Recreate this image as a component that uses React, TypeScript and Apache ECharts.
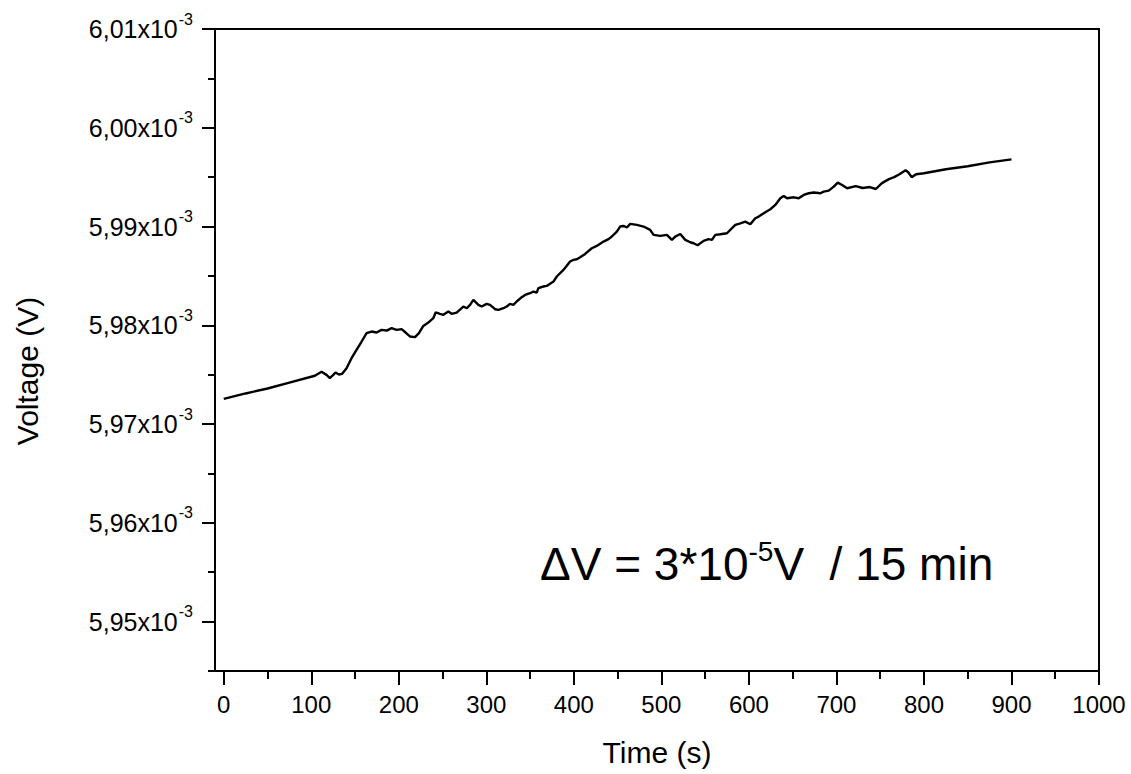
import React, { useEffect, useRef } from "react";
import * as echarts from "echarts";

// Voltage drift recording: time in seconds, voltage in units of 1e-3 V
const timeS: number[] = [
  0, 25, 50, 75, 104.1, 111.7, 117.4, 121.2, 125.1, 127.7, 131.5, 135.3, 140.3,
  146.0, 151.7, 157.5, 163.2, 168.9, 174.6, 180.3, 186.1, 191.8, 197.5, 203.2,
  207.8, 212.7, 218.5, 223.0, 228.0, 233.7, 239.4, 242.1, 247.1, 250.9, 256.6,
  260.4, 266.1, 273.7, 277.6, 281.4, 285.2, 290.9, 294.7, 300.4, 304.2, 310.0,
  313.8, 319.5, 323.3, 327.1, 330.9, 334.7, 340.5, 344.3, 350.0, 353.8, 357.6,
  359.5, 365.2, 369.0, 376.7, 380.5, 388.1, 395.7, 399.6, 403.4, 407.2, 412.9,
  420.5, 426.2, 433.9, 439.6, 443.4, 449.1, 452.9, 456.7, 460.6, 464.4, 472.0,
  479.6, 487.2, 491.1, 498.7, 506.3, 512.0, 515.8, 521.6, 527.3, 533.0, 536.8,
  541.4, 548.2, 553.9, 557.8, 561.6, 567.3, 574.9, 580.7, 584.5, 590.2, 595.9,
  601.6, 607.3, 611.2, 616.9, 624.5, 630.2, 635.9, 639.8, 643.6, 651.2, 656.9,
  662.6, 668.4, 674.1, 681.7, 685.5, 691.2, 697.0, 701.5, 706.5, 712.2, 722, 730,
  738, 745, 752, 760, 766, 772, 779, 782, 786, 791, 800, 825, 850, 875, 900,
];

const voltageMilli: number[] = [
  5.97256, 5.9731, 5.9736, 5.9742, 5.97489, 5.97529, 5.97498, 5.97465, 5.97498,
  5.97522, 5.97502, 5.97509, 5.97566, 5.97667, 5.97752, 5.97836, 5.9792, 5.97937,
  5.97927, 5.97954, 5.97947, 5.97971, 5.97954, 5.97961, 5.97927, 5.97887, 5.9788,
  5.9792, 5.97994, 5.98028, 5.98072, 5.9813, 5.98116, 5.98106, 5.9814, 5.98116,
  5.98129, 5.9819, 5.98173, 5.98207, 5.98258, 5.98207, 5.9819, 5.98217, 5.98207,
  5.98163, 5.98156, 5.98173, 5.9819, 5.98217, 5.98207, 5.98241, 5.98285, 5.98308,
  5.98325, 5.98342, 5.98332, 5.98376, 5.98393, 5.98399, 5.98443, 5.98494, 5.98561,
  5.98646, 5.98662, 5.98669, 5.98689, 5.98723, 5.9878, 5.98804, 5.98848, 5.98872,
  5.98899, 5.98949, 5.99, 5.99006, 5.9899, 5.99027, 5.99017, 5.99, 5.98966,
  5.98915, 5.98905, 5.98915, 5.98865, 5.98898, 5.98925, 5.98865, 5.98841, 5.98831,
  5.98811, 5.98855, 5.98872, 5.98865, 5.98915, 5.98922, 5.98932, 5.98983, 5.99017,
  5.99033, 5.9905, 5.99023, 5.99084, 5.99101, 5.99135, 5.99175, 5.99219, 5.99286,
  5.9931, 5.99286, 5.99296, 5.99286, 5.9932, 5.99337, 5.99344, 5.99337, 5.99354,
  5.99364, 5.99404, 5.99445, 5.99421, 5.99388, 5.9941, 5.9939, 5.994, 5.9938,
  5.9944, 5.9948, 5.995, 5.9953, 5.9957, 5.9955, 5.995, 5.9953, 5.9954, 5.9958,
  5.9961, 5.9965, 5.9968,
];

// Axis tick positions
const xMajorTicks: number[] = [0, 100, 200, 300, 400, 500, 600, 700, 800, 900, 1000];
const xMinorTicks: number[] = [50, 150, 250, 350, 450, 550, 650, 750, 850, 950];
const yMajorTicks: number[] = [5.95, 5.96, 5.97, 5.98, 5.99, 6.0, 6.01];
const yMinorTicks: number[] = [5.945, 5.955, 5.965, 5.975, 5.985, 5.995, 6.005];

const FONT = "'Liberation Sans', Arial, Helvetica, sans-serif";

export default function App() {
  const ref = useRef<HTMLDivElement>(null);

  useEffect(() => {
    if (!ref.current) return;
    const chart = echarts.init(ref.current, null, { renderer: "svg" });

    const line = { lineStyle: { color: "#000", width: 2 } };
    const xRange = { type: "value" as const, min: -10, max: 1000 };
    const yRange = { type: "value" as const, min: 5.945, max: 6.01 };

    chart.setOption({
      animation: false,
      backgroundColor: "#fff",
      grid: {
        left: 215,
        right: 32,
        top: 29,
        bottom: 103,
        show: true,
        borderColor: "#000",
        borderWidth: 2,
        containLabel: false,
        outerBoundsMode: "none",
      },
      xAxis: [
        {
          ...xRange,
          position: "bottom",
          axisLine: { show: true, onZero: false, ...line },
          axisTick: { show: true, inside: false, length: 14, customValues: xMajorTicks, ...line },
          axisLabel: {
            customValues: xMajorTicks,
            margin: 21,
            fontSize: 24,
            fontFamily: FONT,
            color: "#000",
            formatter: (v: number) => String(v),
          },
          splitLine: { show: false },
          name: "Time (s)",
          nameLocation: "middle",
          nameGap: 66,
          nameTextStyle: { fontSize: 30, fontFamily: FONT, color: "#000" },
        },
        {
          ...xRange,
          position: "bottom",
          offset: 0,
          axisLine: { show: false, onZero: false },
          axisTick: { show: true, inside: false, length: 8, customValues: xMinorTicks, ...line },
          axisLabel: { show: false },
          splitLine: { show: false },
        },
      ],
      yAxis: [
        {
          ...yRange,
          position: "left",
          axisLine: { show: true, onZero: false, ...line },
          axisTick: { show: true, inside: false, length: 13, customValues: yMajorTicks, ...line },
          axisLabel: {
            customValues: yMajorTicks,
            margin: 22,
            color: "#000",
            formatter: (v: number) =>
              `{m|${v.toFixed(2).replace(".", ",")}x10}{s|-3}`,
            rich: {
              m: { fontSize: 25, fontFamily: FONT, color: "#000", verticalAlign: "middle" },
              s: {
                fontSize: 16,
                fontFamily: FONT,
                color: "#000",
                verticalAlign: "middle",
                padding: [0, 0, 20, 1],
              },
            },
          },
          splitLine: { show: false },
        },
        {
          ...yRange,
          position: "left",
          offset: 0,
          axisLine: { show: false, onZero: false },
          axisTick: { show: true, inside: false, length: 7, customValues: yMinorTicks, ...line },
          axisLabel: { show: false },
          splitLine: { show: false },
        },
      ],
      graphic: [
        {
          type: "text",
          x: 27,
          y: 371,
          rotation: Math.PI / 2,
          style: {
            text: "Voltage (V)",
            fontSize: 30,
            fontFamily: FONT,
            fill: "#000",
            align: "center",
            verticalAlign: "middle",
          },
        },
        {
          type: "text",
          x: 540,
          y: 564,
          style: {
            text: "{a|ΔV = 3*10}{s|-5}{a|V  / 15 min}",
            fill: "#000",
            align: "left",
            verticalAlign: "middle",
            rich: {
              a: { fontSize: 46, fontFamily: FONT, fill: "#000", verticalAlign: "middle" },
              s: {
                fontSize: 28,
                fontFamily: FONT,
                fill: "#000",
                verticalAlign: "middle",
                padding: [0, 0, 25, 0],
              },
            },
          },
        },
      ],
      series: [
        {
          type: "line",
          xAxisIndex: 0,
          yAxisIndex: 0,
          data: timeS.map((t, i) => [t, voltageMilli[i]]),
          showSymbol: false,
          symbol: "none",
          lineStyle: { color: "#000", width: 2.4 },
          silent: true,
        },
      ],
    });

    return () => chart.dispose();
  }, []);

  return (
    <div
      ref={ref}
      style={{ position: "absolute", left: 0, top: 0, width: 1131, height: 774 }}
    />
  );
}
